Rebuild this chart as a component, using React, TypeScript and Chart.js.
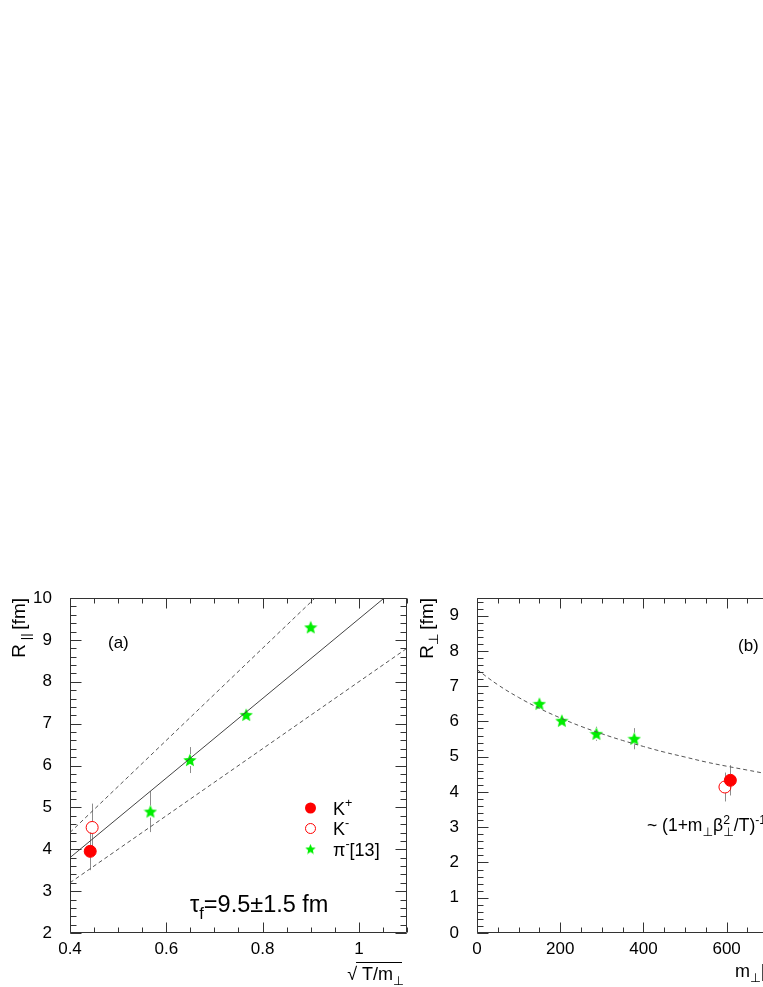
import React, { useEffect, useRef } from 'react';
import { Chart, registerables } from 'chart.js';
Chart.register(...registerables);

const FONT = '"Liberation Sans", Arial, Helvetica, "DejaVu Sans", sans-serif';

// ---------- Panel (a) ----------
const A_X_TICKS = [0.4, 0.6, 0.8, 1];
const A_Y_TICKS = [2, 3, 4, 5, 6, 7, 8, 9, 10];
const A_KP_X = [0.442];
const A_KP_Y = [3.95];
const A_KP_ERR = [0.45];
const A_KM_X = [0.446];
const A_KM_Y = [4.52];
const A_KM_ERR = [0.57];
const A_PI_X = [0.567, 0.649, 0.766, 0.9];
const A_PI_Y = [4.9, 6.13, 7.21, 9.3];
const A_PI_ERR = [0.49, 0.31, 0.12, 0.1];
const A_FIT_X = [0.4, 1.1];
const A_FIT_MID = [3.8, 10.45];
const A_FIT_HI = [4.4, 12.1];
const A_FIT_LO = [3.2, 8.8];

// ---------- Panel (b) ----------
const B_X_TICKS = [0, 200, 400, 600, 800];
const B_Y_TICKS = [0, 1, 2, 3, 4, 5, 6, 7, 8, 9];
const B_PI_X = [150, 204, 287, 378];
const B_PI_Y = [6.5, 6.02, 5.65, 5.51];
const B_PI_ERR = [0.12, 0.12, 0.2, 0.3];
const B_KP_X = [609];
const B_KP_Y = [4.33];
const B_KP_ERR = [0.43];
const B_KM_X = [596];
const B_KM_Y = [4.14];
const B_KM_ERR = [0.41];
const B_CURVE_X = [0, 50, 100, 150, 200, 250, 300, 350, 400, 450, 500, 550, 600, 650, 700, 750, 800];
const B_CURVE_Y = [7.47, 7.04, 6.68, 6.37, 6.1, 5.86, 5.65, 5.46, 5.29, 5.13, 4.99, 4.85, 4.73, 4.62, 4.51, 4.41, 4.32];

const RED = '#ff0000';
const GREEN = '#00ee00';
const ERRC = '#8c8c8c';
const FRAME = '#333333';

function makeStar(d: number, color: string) {
  const c = document.createElement('canvas');
  c.width = d;
  c.height = d;
  const g = c.getContext('2d')!;
  const R = d / 2;
  const r = R * 0.45;
  const cx = d / 2;
  const cy = d / 2 + R * 0.08;
  g.beginPath();
  for (let i = 0; i < 10; i++) {
    const ang = -Math.PI / 2 + (i * Math.PI) / 5;
    const rad = i % 2 === 0 ? R : r;
    const px = cx + rad * Math.cos(ang);
    const py = cy + rad * Math.sin(ang);
    if (i === 0) g.moveTo(px, py);
    else g.lineTo(px, py);
  }
  g.closePath();
  g.fillStyle = color;
  g.fill();
  return c;
}

type Seg = { t?: string; sub?: boolean; sup?: boolean; stackSup?: string; stackSub?: string };

function segWidth(ctx: CanvasRenderingContext2D, s: Seg, size: number) {
  const small = size * 0.7;
  if (s.stackSup !== undefined) {
    ctx.font = `${small}px ${FONT}`;
    return Math.max(ctx.measureText(s.stackSup).width, ctx.measureText(s.stackSub || '').width);
  }
  ctx.font = `${s.sub || s.sup ? small : size}px ${FONT}`;
  return ctx.measureText(s.t || '').width;
}

function drawRich(ctx: CanvasRenderingContext2D, segs: Seg[], x: number, y: number, size: number, align: 'left' | 'right') {
  ctx.save();
  ctx.textAlign = 'left';
  ctx.textBaseline = 'alphabetic';
  ctx.fillStyle = '#000';
  let total = 0;
  const ws = segs.map((s) => segWidth(ctx, s, size));
  ws.forEach((w) => (total += w));
  let cx = align === 'right' ? x - total : x;
  const small = size * 0.7;
  segs.forEach((s, i) => {
    if (s.stackSup !== undefined) {
      ctx.font = `${small}px ${FONT}`;
      ctx.fillText(s.stackSup, cx, y - size * 0.42);
      ctx.fillText(s.stackSub || '', cx, y + size * 0.28);
    } else if (s.sub) {
      ctx.font = `${small}px ${FONT}`;
      ctx.fillText(s.t || '', cx, y + size * 0.28);
    } else if (s.sup) {
      ctx.font = `${small}px ${FONT}`;
      ctx.fillText(s.t || '', cx, y - size * 0.42);
    } else {
      ctx.font = `${size}px ${FONT}`;
      ctx.fillText(s.t || '', cx, y);
    }
    cx += ws[i];
  });
  ctx.restore();
  return { start: align === 'right' ? x - total : x, widths: ws };
}

function drawRotated(ctx: CanvasRenderingContext2D, segs: Seg[], x: number, y: number, size: number) {
  ctx.save();
  ctx.translate(x, y);
  ctx.rotate(-Math.PI / 2);
  drawRich(ctx, segs, 0, 0, size, 'right');
  ctx.restore();
}

type FrameCfg = {
  xTicks: number[];
  yTicks: number[];
  xMin: number;
  xMax: number;
  xMinor: number;
  yMin: number;
  yMax: number;
  yMinor: number;
  errs: { xs: number[]; ys: number[]; es: number[]; gap: number }[];
  texts: (ctx: CanvasRenderingContext2D) => void;
};

function makePlugin(id: string, cfg: FrameCfg) {
  return {
    id,
    beforeDatasetsDraw(chart: any) {
      const ctx: CanvasRenderingContext2D = chart.ctx;
      const xs = chart.scales.x;
      const ys = chart.scales.y;
      ctx.save();
      ctx.strokeStyle = ERRC;
      ctx.lineWidth = 1;
      cfg.errs.forEach((e) => {
        e.xs.forEach((xv, i) => {
          const px = Math.round(xs.getPixelForValue(xv)) + 0.5;
          const py = ys.getPixelForValue(e.ys[i]);
          const top = ys.getPixelForValue(e.ys[i] + e.es[i]);
          const bot = ys.getPixelForValue(e.ys[i] - e.es[i]);
          ctx.beginPath();
          if (py - e.gap > top) {
            ctx.moveTo(px, top);
            ctx.lineTo(px, py - e.gap);
          }
          if (py + e.gap < bot) {
            ctx.moveTo(px, py + e.gap);
            ctx.lineTo(px, bot);
          }
          ctx.stroke();
        });
      });
      ctx.restore();
    },
    afterDatasetsDraw(chart: any) {
      const ctx: CanvasRenderingContext2D = chart.ctx;
      const a = chart.chartArea;
      const xs = chart.scales.x;
      const ys = chart.scales.y;
      const L = Math.round(a.left) + 0.5;
      const R = Math.round(a.right) - 0.5;
      const T = Math.round(a.top) + 0.5;
      const B = Math.round(a.bottom) - 0.5;
      ctx.save();
      ctx.strokeStyle = FRAME;
      ctx.lineWidth = 1;
      ctx.beginPath();
      ctx.rect(L, T, R - L, B - T);
      const drawX = (v: number, len: number) => {
        const px = Math.round(xs.getPixelForValue(v)) + 0.5;
        ctx.moveTo(px, B);
        ctx.lineTo(px, B - len);
        ctx.moveTo(px, T);
        ctx.lineTo(px, T + len);
      };
      const drawY = (v: number, len: number) => {
        const py = Math.round(ys.getPixelForValue(v)) + 0.5;
        ctx.moveTo(L, py);
        ctx.lineTo(L + len, py);
        ctx.moveTo(R, py);
        ctx.lineTo(R - len, py);
      };
      const nx = Math.round((cfg.xMax - cfg.xMin) / cfg.xMinor);
      for (let i = 0; i <= nx; i++) drawX(cfg.xMin + i * cfg.xMinor, 5);
      cfg.xTicks.forEach((v) => drawX(v, 10));
      const ny = Math.floor((cfg.yMax - cfg.yMin) / cfg.yMinor + 1e-6);
      for (let i = 0; i <= ny; i++) drawY(cfg.yMin + i * cfg.yMinor, 6);
      cfg.yTicks.forEach((v) => drawY(v, 11));
      ctx.stroke();
      ctx.restore();
    },
    afterDraw(chart: any) {
      cfg.texts(chart.ctx);
    },
  };
}

function scatterSet(xs: number[], ys: number[], extra: any) {
  return {
    data: xs.map((x, i) => ({ x, y: ys[i] })),
    showLine: false,
    ...extra,
  };
}

function lineSet(xs: number[], ys: number[], extra: any) {
  return {
    data: xs.map((x, i) => ({ x, y: ys[i] })),
    showLine: true,
    pointRadius: 0,
    borderWidth: 1,
    fill: false,
    ...extra,
  };
}

function axisOpts(min: number, max: number, ticks: number[], fit: (s: any) => void, padding: number) {
  return {
    type: 'linear',
    min,
    max,
    grid: { display: false, drawTicks: false },
    border: { display: false },
    afterBuildTicks: (s: any) => {
      s.ticks = ticks.map((v) => ({ value: v }));
    },
    afterFit: fit,
    ticks: {
      padding,
      autoSkip: false,
      maxRotation: 0,
      color: '#000',
      font: { family: FONT, size: 17 },
      callback: (v: any) => String(v),
    },
  };
}

export default function App() {
  const refA = useRef<HTMLCanvasElement>(null);
  const refB = useRef<HTMLCanvasElement>(null);

  useEffect(() => {
    const starBig = makeStar(14, GREEN);
    const starLeg = makeStar(11, GREEN);

    const textsA = (ctx: CanvasRenderingContext2D) => {
      drawRotated(ctx, [{ t: 'R' }, { t: ' || ', sub: true }, { t: '[fm]' }], 25, 598, 19);
      const size = 18;
      const res = drawRich(ctx, [{ t: '\u221A' }, { t: ' T/m' }, { t: '\u22A5', sub: true }], 404, 980, size, 'right');
      ctx.save();
      ctx.strokeStyle = '#000';
      ctx.lineWidth = 1;
      ctx.beginPath();
      const ox = res.start + res.widths[0] - 1;
      ctx.moveTo(ox, 962.5);
      ctx.lineTo(402, 962.5);
      ctx.stroke();
      ctx.restore();
      drawRich(ctx, [{ t: '(a)' }], 108, 648, 17, 'left');
      drawRich(ctx, [{ t: '\u03C4' }, { t: 'f', sub: true }, { t: '=9.5\u00B11.5 fm' }], 190, 912, 23.5, 'left');
      ctx.save();
      ctx.fillStyle = RED;
      ctx.beginPath();
      ctx.arc(310.5, 808, 5.5, 0, Math.PI * 2);
      ctx.fill();
      ctx.strokeStyle = RED;
      ctx.lineWidth = 1;
      ctx.beginPath();
      ctx.arc(310.5, 828.5, 5, 0, Math.PI * 2);
      ctx.stroke();
      ctx.drawImage(starLeg, 310.5 - 5.5, 849 - 5.5);
      ctx.restore();
      drawRich(ctx, [{ t: 'K' }, { t: '+', sup: true }], 333, 815, 18, 'left');
      drawRich(ctx, [{ t: 'K' }, { t: '-', sup: true }], 333, 835, 18, 'left');
      drawRich(ctx, [{ t: '\u03C0' }, { t: '-', sup: true }, { t: '[13]' }], 333, 856, 18, 'left');
    };

    const chartA = new Chart(refA.current!, {
      type: 'scatter',
      data: {
        datasets: [
          lineSet(A_FIT_X, A_FIT_MID, { borderColor: '#444' }),
          lineSet(A_FIT_X, A_FIT_HI, { borderColor: '#555', borderDash: [4, 3] }),
          lineSet(A_FIT_X, A_FIT_LO, { borderColor: '#555', borderDash: [4, 3] }),
          scatterSet(A_PI_X, A_PI_Y, { pointStyle: starBig, pointRadius: 7 }),
          scatterSet(A_KM_X, A_KM_Y, {
            pointStyle: 'circle',
            pointRadius: 6,
            pointBorderWidth: 1,
            pointBorderColor: RED,
            pointBackgroundColor: 'rgba(0,0,0,0)',
          }),
          scatterSet(A_KP_X, A_KP_Y, {
            pointStyle: 'circle',
            pointRadius: 6,
            pointBorderWidth: 1,
            pointBorderColor: RED,
            pointBackgroundColor: RED,
          }),
        ] as any,
      },
      options: {
        animation: false,
        responsive: false,
        devicePixelRatio: 1,
        layout: { padding: { left: 10, top: 598, right: 13, bottom: 0 } },
        plugins: { legend: { display: false }, tooltip: { enabled: false } },
        scales: {
          x: axisOpts(0.4, 1.1, A_X_TICKS, (s: any) => { s.height = 54; }, 6),
          y: axisOpts(2, 10, A_Y_TICKS, (s: any) => { s.width = 60; }, 18),
        } as any,
      },
      plugins: [
        makePlugin('frameA', {
          xTicks: A_X_TICKS,
          yTicks: A_Y_TICKS,
          xMin: 0.4,
          xMax: 1.1,
          xMinor: 0.05,
          yMin: 2,
          yMax: 10,
          yMinor: 0.2,
          errs: [
            { xs: A_PI_X, ys: A_PI_Y, es: A_PI_ERR, gap: 6 },
            { xs: A_KM_X, ys: A_KM_Y, es: A_KM_ERR, gap: 6 },
            { xs: A_KP_X, ys: A_KP_Y, es: A_KP_ERR, gap: 6 },
          ],
          texts: textsA,
        }),
      ],
    });

    const textsB = (ctx: CanvasRenderingContext2D) => {
      drawRotated(ctx, [{ t: 'R' }, { t: '\u22A5 ', sub: true }, { t: '[fm]' }], 23, 598, 19);
      drawRich(ctx, [{ t: 'm' }, { t: '\u22A5', sub: true }, { t: '[MeV]' }], 325, 977, 18, 'left');
      drawRich(ctx, [{ t: '(b)' }], 328, 651, 17, 'left');
      drawRich(
        ctx,
        [
          { t: '~ (1+m' },
          { t: '\u22A5', sub: true },
          { t: '\u03B2' },
          { stackSup: '2', stackSub: '\u22A5' },
          { t: '/T)' },
          { t: '-1/2', sup: true },
        ],
        237,
        831,
        17.5,
        'left'
      );
    };

    const chartB = new Chart(refB.current!, {
      type: 'scatter',
      data: {
        datasets: [
          lineSet(B_CURVE_X, B_CURVE_Y, { borderColor: '#555', borderDash: [4, 3], tension: 0.4 }),
          scatterSet(B_PI_X, B_PI_Y, { pointStyle: starBig, pointRadius: 7 }),
          scatterSet(B_KM_X, B_KM_Y, {
            pointStyle: 'circle',
            pointRadius: 6,
            pointBorderWidth: 1,
            pointBorderColor: RED,
            pointBackgroundColor: 'rgba(0,0,0,0)',
          }),
          scatterSet(B_KP_X, B_KP_Y, {
            pointStyle: 'circle',
            pointRadius: 6,
            pointBorderWidth: 1,
            pointBorderColor: RED,
            pointBackgroundColor: RED,
          }),
        ] as any,
      },
      options: {
        animation: false,
        responsive: false,
        devicePixelRatio: 1,
        layout: { padding: { left: 10, top: 598, right: 16, bottom: 0 } },
        plugins: { legend: { display: false }, tooltip: { enabled: false } },
        scales: {
          x: axisOpts(0, 800, B_X_TICKS, (s: any) => { s.height = 54; }, 6),
          y: axisOpts(0, 9.5, B_Y_TICKS, (s: any) => { s.width = 57; }, 18),
        } as any,
      },
      plugins: [
        makePlugin('frameB', {
          xTicks: B_X_TICKS,
          yTicks: B_Y_TICKS,
          xMin: 0,
          xMax: 800,
          xMinor: 50,
          yMin: 0,
          yMax: 9.5,
          yMinor: 0.2,
          errs: [
            { xs: B_PI_X, ys: B_PI_Y, es: B_PI_ERR, gap: 6 },
            { xs: B_KM_X, ys: B_KM_Y, es: B_KM_ERR, gap: 6 },
            { xs: B_KP_X, ys: B_KP_Y, es: B_KP_ERR, gap: 6 },
          ],
          texts: textsB,
        }),
      ],
    });

    return () => {
      chartA.destroy();
      chartB.destroy();
    };
  }, []);

  return (
    <div
      style={{
        position: 'fixed',
        left: 0,
        top: 0,
        width: 763,
        height: 987,
        overflow: 'hidden',
        background: '#fff',
      }}
    >
      <canvas ref={refA} width={420} height={987} style={{ position: 'absolute', left: 0, top: 0 }} />
      <canvas ref={refB} width={420} height={987} style={{ position: 'absolute', left: 410, top: 0 }} />
    </div>
  );
}
